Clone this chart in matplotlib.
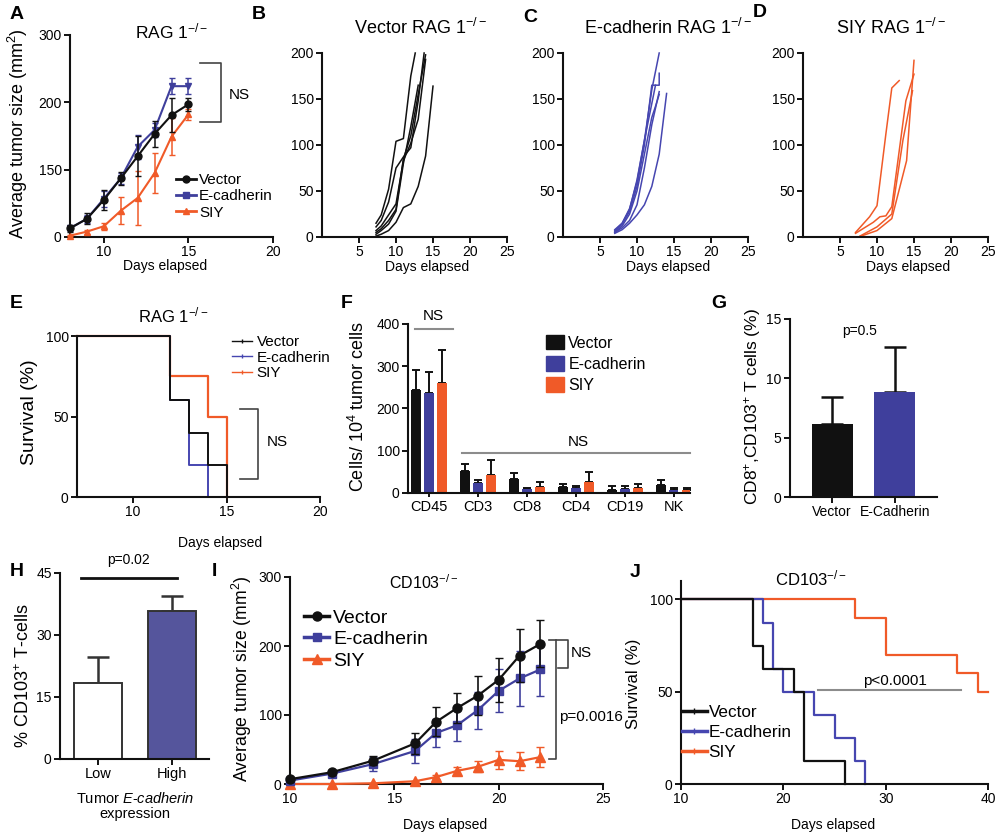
import matplotlib
matplotlib.use('Agg')
import matplotlib.pyplot as plt
import matplotlib.transforms as mtransforms
from matplotlib.lines import Line2D
from matplotlib.patches import Patch
import numpy as np

plt.rcParams['font.family'] = ['Liberation Sans', 'DejaVu Sans']
plt.rcParams['mathtext.fontset'] = 'custom'
plt.rcParams['mathtext.rm'] = 'Liberation Sans'
plt.rcParams['mathtext.it'] = 'Liberation Sans:italic'
plt.rcParams['mathtext.bf'] = 'Liberation Sans:bold'
plt.rcParams['mathtext.default'] = 'regular'

BLACK = '#111111'
BLUE = '#3f3f9c'
BLUE_LINE = '#4646b0'
ORANGE = '#f05a28'
GRAY = '#8c8c8c'

# ---------------- DATA ----------------
# Panel A: RAG1-/- average tumour size
A_days = [8, 9, 10, 11, 12, 13, 14, 15]
A_vector = [13, 27, 55, 87, 120, 153, 181, 197]
A_vector_err = [5, 8, 15, 10, 30, 20, 25, 10]
A_ecad = [13, 27, 57, 87, 134, 159, 224, 224]
A_ecad_err = [4, 6, 12, 8, 18, 10, 12, 12]
A_siy = [2, 8, 16, 39, 58, 95, 149, 182]
A_siy_err = [1, 3, 5, 20, 40, 30, 27, 8]
A_yticks = [0, 100, 200, 300]
A_yticklabels = ['0', '150', '200', '300']

# Panel B: Vector individual curves
B_days = [[7.3, 8, 9, 10, 11, 12, 12.6],
          [7.3, 8, 9, 10, 11, 12, 13, 13.8],
          [7.3, 8, 9, 10, 11, 12, 13, 14],
          [7.3, 8, 9, 10, 11, 12, 13, 14, 15],
          [7.3, 8, 9, 10, 11, 12, 13, 14],
          [7.3, 8, 9, 10, 11, 12, 13]]
B_vals = [[15, 24, 52, 104, 107, 175, 200],
          [11, 18, 38, 75, 87, 97, 148, 200],
          [7, 12, 24, 36, 83, 102, 128, 193],
          [1, 3, 7, 16, 32, 36, 55, 88, 164],
          [5, 9, 18, 30, 85, 110, 155, 198],
          [3, 7, 14, 28, 80, 120, 165]]

# Panel C: E-cadherin individual curves
C_days = [[7, 8, 9, 10, 11, 12, 12.5, 13],
          [7, 8, 9, 10, 11, 12, 13, 13],
          [7, 8, 9, 10, 11, 12, 12.5, 13],
          [7, 8, 9, 10, 11, 12, 13, 14],
          [7, 8, 9, 10, 11, 12, 13],
          [7, 8, 9, 10, 11, 12, 12.5]]
C_vals = [[8, 15, 30, 62, 105, 160, 180, 200],
          [6, 14, 28, 55, 100, 165, 165, 178],
          [5, 12, 25, 50, 90, 130, 142, 155],
          [4, 8, 15, 24, 35, 55, 90, 156],
          [5, 10, 18, 35, 75, 122, 158],
          [7, 15, 31, 60, 105, 145, 165]]

# Panel D: SIY individual curves
D_days = [[7.1, 9, 10, 11.2, 12, 13],
          [7.1, 9.5, 10.4, 11.2, 12, 13.9, 15],
          [7.5, 10, 12, 14, 15],
          [7.7, 10, 12, 13.5, 14.8]]
D_vals = [[5, 22, 34, 112, 162, 170],
          [4, 16, 22, 23, 33, 148, 177],
          [0, 7, 20, 83, 192],
          [1, 11, 25, 105, 159]]

# Panel E: RAG1-/- survival (time axis starts at 7)
E_vector_t = [7, 12, 13, 14, 15]
E_vector_s = [100, 60, 40, 20, 0]
E_ecad_t = [7, 12, 13, 14]
E_ecad_s = [100, 60, 20, 0]
E_siy_t = [7, 12, 14, 15]
E_siy_s = [100, 75, 50, 0]

# Panel F: immune infiltrate
F_cats = ['CD45', 'CD3', 'CD8', 'CD4', 'CD19', 'NK']
F_vector = [243, 51, 34, 14, 8, 20]
F_vector_err = [49, 18, 13, 7, 8, 10]
F_ecad = [237, 24, 9, 11, 10, 8]
F_ecad_err = [49, 6, 4, 5, 6, 4]
F_siy = [260, 43, 14, 26, 11, 8]
F_siy_err = [78, 34, 12, 24, 11, 4]

# Panel G
G_cats = ['Vector', 'E-Cadherin']
G_vals = [6.14, 8.82]
G_err = [2.3, 3.8]

# Panel H
H_cats = ['Low', 'High']
H_vals = [18.3, 35.9]
H_err = [6.3, 3.6]

# Panel I: CD103-/- average tumour size
I_days = [10, 12, 14, 16, 17, 18, 19, 20, 21, 22]
I_vector = [7, 17, 34, 59, 90, 110, 128, 151, 186, 203]
I_vector_err = [2, 3, 6, 15, 21, 22, 28, 32, 38, 34]
I_ecad = [5, 15, 29, 48, 74, 85, 107, 135, 153, 166]
I_ecad_err = [2, 3, 10, 17, 20, 22, 27, 31, 40, 38]
I_siy = [0, 0, 1, 4, 10, 19, 25, 35, 33, 39]
I_siy_err = [0, 0, 1, 1, 3, 6, 8, 13, 13, 14]

# Panel J: CD103-/- survival (time axis starts at 10)
J_vector_t = [10, 17, 18, 21, 22, 26]
J_vector_s = [100, 75, 62.5, 50, 12.5, 0]
J_ecad_t = [10, 18, 19, 20, 23, 25, 27, 28]
J_ecad_s = [100, 87.5, 62.5, 50, 37.5, 25, 12.5, 0]
J_siy_t = [10, 27, 30, 37, 39, 40]
J_siy_s = [100, 90, 70, 60, 50, 50]

# ---------------- FIGURE ----------------
W, H = 1000, 832
fig = plt.figure(figsize=(W / 100, H / 100), dpi=100)
fig.patch.set_facecolor('white')
PX = mtransforms.Affine2D().scale(1 / W, -1 / H).translate(0, 1) + fig.transFigure


def px_axes(x0, y0, x1, y1):
    ax = fig.add_axes([x0 / W, 1 - y1 / H, (x1 - x0) / W, (y1 - y0) / H])
    for s in ['top', 'right']:
        ax.spines[s].set_visible(False)
    for s in ['left', 'bottom']:
        ax.spines[s].set_linewidth(1.5)
        ax.spines[s].set_color(BLACK)
    ax.tick_params(direction='out', length=4, width=1.4, labelsize=10, color=BLACK, pad=2)
    ax.patch.set_alpha(0)
    return ax


def ylab(ax, text, x, y, fs):
    ax.set_ylabel(text, fontsize=fs)
    ax.yaxis.set_label_coords(x, y, transform=PX)


def xlab(ax, text, x, y, fs=10):
    ax.set_xlabel(text, fontsize=fs, va='top')
    ax.xaxis.set_label_coords(x, y, transform=PX)


def title(text, x, y, fs):
    fig.text(x / W, 1 - y / H, text, fontsize=fs, ha='center', va='center')


def plabel(text, x, y):
    fig.text(x / W, 1 - y / H, text, fontsize=14, fontweight='bold', ha='left', va='top')


def legend(ax, handles, labels, x, y, fs, hl, sp, tp=0.3, hh=0.7):
    ax.legend(handles, labels, loc='upper left', bbox_to_anchor=(x, y),
              bbox_transform=PX, frameon=False, fontsize=fs, handlelength=hl,
              handletextpad=tp, labelspacing=sp, borderpad=0, borderaxespad=0,
              handleheight=hh)


# ---- Panel A ----
ax = px_axes(70, 35, 273, 237)
ax.set_xlim(8, 20)
ax.set_ylim(0, 300)
ax.set_xticks([10, 15, 20])
ax.set_yticks(A_yticks)
ax.set_yticklabels(A_yticklabels)
ax.errorbar(A_days, A_siy, yerr=A_siy_err, color=ORANGE, marker='^', ms=5, lw=1.5,
            capsize=2.5, elinewidth=1.1, clip_on=False, zorder=3)
ax.errorbar(A_days, A_ecad, yerr=A_ecad_err, color=BLUE, marker='v', ms=5, lw=1.5,
            capsize=2.5, elinewidth=1.1, clip_on=False, zorder=4)
ax.errorbar(A_days, A_vector, yerr=A_vector_err, color=BLACK, marker='o', ms=5, lw=1.5,
            capsize=2.5, elinewidth=1.1, clip_on=False, zorder=5)
ax.plot([15.7, 16.9, 16.9, 15.7], [258.5, 258.5, 171, 171], color='#444444', lw=1.2, clip_on=False)
ax.text(18.0, 211, 'NS', fontsize=11, ha='center', va='center')
hA = [Line2D([], [], color=BLACK, marker='o', ms=5, lw=2),
      Line2D([], [], color=BLUE, marker='s', ms=4, lw=2),
      Line2D([], [], color=ORANGE, marker='^', ms=5, lw=2)]
legend(ax, hA, ['Vector', 'E-cadherin', 'SIY'], 176, 173, 11, 1.3, 0.15, tp=0.2)
ylab(ax, 'Average tumor size (mm$^2$)', 30, 134, 13)
xlab(ax, 'Days elapsed', 165, 259)
title('RAG 1$^{-/-}$', 172, 31, 12.5)

# ---- Panels B, C, D ----
for (x0, x1), days, vals, col, ttl, tx in [((322, 507), B_days, B_vals, BLACK, 'Vector RAG 1$^{-/-}$', 420),
                                            ((563, 748), C_days, C_vals, BLUE_LINE, 'E-cadherin RAG 1$^{-/-}$', 668),
                                            ((803, 988), D_days, D_vals, ORANGE, 'SIY RAG 1$^{-/-}$', 891)]:
    ax = px_axes(x0, 53, x1, 237)
    ax.set_xlim(0, 25)
    ax.set_ylim(0, 200)
    ax.set_xticks([5, 10, 15, 20, 25])
    ax.set_yticks([0, 50, 100, 150, 200])
    for d, v in zip(days, vals):
        ax.plot(d, v, color=col, lw=1.1, clip_on=False)
    xlab(ax, 'Days elapsed', x0 + 105, 260)
    title(ttl, tx, 28, 13)

# ---- Panel E ----
ax = px_axes(77, 336, 320, 497)
ax.set_xlim(7, 20)
ax.set_ylim(0, 100)
ax.set_xticks([10, 15, 20])
ax.set_yticks([0, 50, 100])
ax.step(E_siy_t, E_siy_s, where='post', color=ORANGE, lw=1.6, clip_on=False)
ax.step(E_ecad_t, E_ecad_s, where='post', color=BLUE_LINE, lw=1.4, clip_on=False)
ax.step(E_vector_t, E_vector_s, where='post', color=BLACK, lw=1.4, clip_on=False)
ax.plot([15.72, 16.68, 16.68, 15.72], [54.6, 54.6, 11.2, 11.2], color='#444444', lw=1.2, clip_on=False)
ax.text(17.7, 34, 'NS', fontsize=11, ha='center', va='center')
hE = [Line2D([], [], color=BLACK, lw=1, marker='|', ms=3),
      Line2D([], [], color=BLUE_LINE, lw=1, marker='|', ms=3),
      Line2D([], [], color=ORANGE, lw=1, marker='|', ms=3)]
legend(ax, hE, ['Vector', 'E-cadherin', 'SIY'], 232, 335, 11, 1.3, 0.1, tp=0.3)
ylab(ax, 'Survival (%)', 38, 412, 14)
xlab(ax, 'Days elapsed', 220, 536)
title('RAG 1$^{-/-}$', 173, 315, 12)

# ---- Panel F ----
ax = px_axes(408, 324, 690, 493)
ax.set_ylim(0, 400)
ax.set_xlim(-0.43, 5.33)
x = np.arange(len(F_cats))
bw, off = 0.19, 0.265
for vals, errs, col, dx in [(F_vector, F_vector_err, BLACK, -off),
                            (F_ecad, F_ecad_err, BLUE, 0),
                            (F_siy, F_siy_err, ORANGE, off)]:
    ax.bar(x + dx, vals, width=bw, color=col, zorder=2)
    ax.errorbar(x + dx, vals, yerr=[np.zeros(len(vals)), errs], fmt='none', ecolor=BLACK,
                elinewidth=1.4, capsize=3, capthick=1.4, zorder=1)
ax.set_xticks(x)
ax.set_xticklabels(F_cats, fontsize=10.5)
ax.set_yticks([0, 100, 200, 300, 400])
ax.tick_params(axis='x', length=3)
ax.plot([-0.29, 0.49], [388, 388], color=GRAY, lw=1.5, clip_on=False)
ax.text(0.08, 419, 'NS', fontsize=11, ha='center', va='center')
ax.plot([0.67, 5.33], [95, 95], color=GRAY, lw=1.5, clip_on=False)
ax.text(3.04, 121, 'NS', fontsize=11, ha='center', va='center')
hF = [Patch(color=BLACK), Patch(color=BLUE), Patch(color=ORANGE)]
legend(ax, hF, ['Vector', 'E-cadherin', 'SIY'], 546, 335, 11.5, 1.1, 0.35, tp=0.3, hh=1.0)
ylab(ax, 'Cells/ 10$^4$ tumor cells', 368, 406, 13)

# ---- Panel G ----
ax = px_axes(790, 319, 937, 497)
ax.set_ylim(0, 15)
ax.set_xlim(-0.67, 1.67)
ax.bar([0, 1], G_vals, width=0.65, color=[BLACK, BLUE], zorder=2)
ax.errorbar([0, 1], G_vals, yerr=[[0, 0], G_err], fmt='none', ecolor=BLACK,
            elinewidth=1.8, capsize=8, capthick=1.8, zorder=1)
ax.set_xticks([0, 1])
ax.set_xticklabels(G_cats, fontsize=10)
ax.set_yticks([0, 5, 10, 15])
ax.text(0.44, 14.0, 'p=0.5', fontsize=10, ha='center', va='center')
ylab(ax, 'CD8$^{+}$,CD103$^{+}$ T cells (%)', 763, 407, 12.5)

# ---- Panel H ----
ax = px_axes(60, 573, 209, 759)
ax.set_ylim(0, 45)
ax.set_xlim(-0.51, 1.5)
ax.bar([0, 1], H_vals, width=0.65, color=['white', '#55559c'], edgecolor='#333333', lw=1.4, zorder=2)
ax.errorbar([0, 1], H_vals, yerr=[[0, 0], H_err], fmt='none', ecolor='#333333',
            elinewidth=1.8, capsize=8, capthick=1.8, zorder=1)
ax.set_xticks([0, 1])
ax.set_xticklabels(H_cats, fontsize=10.5)
ax.set_yticks([0, 15, 30, 45])
ax.plot([-0.22, 1.07], [43.8, 43.8], color=BLACK, lw=2, clip_on=False)
ax.text(0.41, 48.1, 'p=0.02', fontsize=10, ha='center', va='center', clip_on=False)
ylab(ax, '% CD103$^{+}$ T-cells', 33, 676, 13)
ax.set_xlabel('Tumor $\\mathit{E}$-$\\mathit{cadherin}$\nexpression', fontsize=10.5, va='top',
              linespacing=1.1)
ax.xaxis.set_label_coords(135, 791, transform=PX)

# ---- Panel I ----
ax = px_axes(290, 577, 603, 784)
ax.set_xlim(10, 25)
ax.set_ylim(0, 300)
ax.set_xticks([10, 15, 20, 25])
ax.set_yticks([0, 100, 200, 300])
ax.errorbar(I_days, I_siy, yerr=I_siy_err, color=ORANGE, marker='^', ms=6.5, lw=1.6,
            capsize=3, elinewidth=1.2, clip_on=False, zorder=3)
ax.errorbar(I_days, I_ecad, yerr=I_ecad_err, color=BLUE, marker='s', ms=6, lw=1.6,
            capsize=3, elinewidth=1.2, clip_on=False, zorder=4)
ax.errorbar(I_days, I_vector, yerr=I_vector_err, color=BLACK, marker='o', ms=6.5, lw=1.6,
            capsize=3, elinewidth=1.2, clip_on=False, zorder=5)
ax.plot([22.4, 23.32, 23.32, 22.85], [209, 209, 168, 168], color='#444444', lw=1.2, clip_on=False)
ax.plot([22.75, 22.75, 22.4], [209, 36, 36], color='#444444', lw=1.2, clip_on=False)
ax.text(23.45, 190, 'NS', fontsize=11, ha='left', va='center')
ax.text(22.9, 97, 'p=0.0016', fontsize=11, ha='left', va='center', clip_on=False)
hI = [Line2D([], [], color=BLACK, marker='o', ms=6.5, lw=2.5),
      Line2D([], [], color=BLUE, marker='s', ms=6, lw=2.5),
      Line2D([], [], color=ORANGE, marker='^', ms=6.5, lw=2.5)]
legend(ax, hI, ['Vector', 'E-cadherin', 'SIY'], 304, 609, 14, 1.3, 0.2, tp=0.2)
ylab(ax, 'Average tumor size (mm$^2$)', 254, 679, 12.7)
xlab(ax, 'Days elapsed', 445, 818)
title('CD103$^{-/-}$', 424, 583, 11.5)

# ---- Panel J ----
ax = px_axes(681, 581, 988, 784)
ax.set_xlim(10, 40)
ax.set_ylim(0, 110)
ax.set_xticks([10, 20, 30, 40])
ax.set_yticks([0, 50, 100])
ax.step(J_siy_t, J_siy_s, where='post', color=ORANGE, lw=1.6, clip_on=False)
ax.step(J_ecad_t, J_ecad_s, where='post', color=BLUE_LINE, lw=1.6, clip_on=False)
ax.step(J_vector_t, J_vector_s, where='post', color=BLACK, lw=1.6, clip_on=False)
ax.plot([23.4, 37.4], [51, 51], color=GRAY, lw=1.5)
ax.text(30.9, 55.7, 'p<0.0001', fontsize=11, ha='center', va='center')
hJ = [Line2D([], [], color=BLACK, lw=2.5, marker='|', ms=4),
      Line2D([], [], color=BLUE_LINE, lw=2.5, marker='|', ms=4),
      Line2D([], [], color=ORANGE, lw=2.5, marker='|', ms=4)]
legend(ax, hJ, ['Vector', 'E-cadherin', 'SIY'], 682, 705, 12.3, 1.45, 0.3, tp=0.1)
ylab(ax, 'Survival (%)', 641, 684, 12)
xlab(ax, 'Days elapsed', 833, 818)
title('CD103$^{-/-}$', 811, 578, 12)

# ---- panel letters ----
for lab, xx, yy in [('A', 10, 6), ('B', 252, 6), ('C', 523, 9), ('D', 753, 4), ('E', 10, 295),
                    ('F', 341, 295), ('G', 711, 295), ('H', 10, 563), ('I', 212, 563), ('J', 630, 564)]:
    plabel(lab, xx, yy)

fig.savefig('out.png', dpi=100, facecolor='white')
